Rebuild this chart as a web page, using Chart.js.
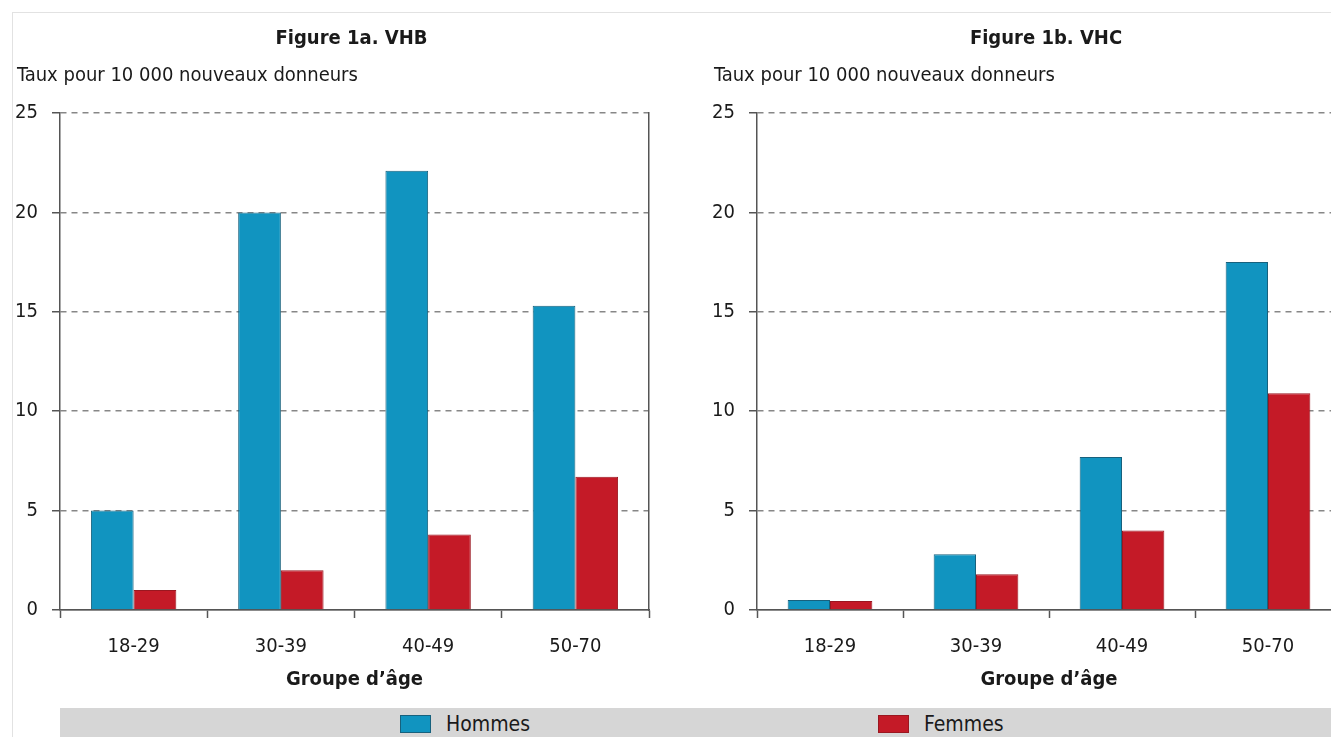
<!DOCTYPE html>
<html lang="fr">
<head>
<meta charset="utf-8">
<title>Figure 1a / 1b</title>
<script src="https://cdn.jsdelivr.net/npm/chart.js@4.4.1/dist/chart.umd.min.js"></script>
<style>
  html, body { margin: 0; padding: 0; background: #fff; overflow: hidden; }
  body { width: 1331px; height: 737px; position: relative;
         font-family: 'Liberation Sans Narrow', 'DejaVu Sans Condensed', sans-serif; }
  .frame { position: absolute; left: 12px; top: 12px; width: 1330px; height: 740px;
           border-left: 1.5px solid #e2e2e2; border-top: 1.5px solid #e2e2e2; }
  .box { position: absolute; }
  #boxA { left: 12px; top: 12px; width: 650px; height: 688px; }
  #boxB { left: 709px; top: 12px; width: 645px; height: 688px; }
  .legend { position: absolute; left: 60px; top: 708px; width: 1300px; height: 29px; background: #d6d6d6; }
  .leg-item { position: absolute; top: 1px; height: 29px; display: flex; align-items: center;
              font-size: 21px; color: #1a1a1a; }
  .swatch { width: 31px; height: 18px; margin-right: 15px; box-sizing: border-box; }
</style>
</head>
<body>
<div class="frame"></div>
<div class="box" id="boxA"><canvas id="chartA"></canvas></div>
<div class="box" id="boxB"><canvas id="chartB"></canvas></div>
<div class="legend" id="legend"></div>

<script>
// ── Data ────────────────────────────────────────────────────────────────────
const categories = ["18-29", "30-39", "40-49", "50-70"];
const vhbHommes  = [5.0, 20.0, 22.1, 15.3];
const vhbFemmes  = [1.0, 2.0, 3.8, 6.7];
const vhcHommes  = [0.5, 2.8, 7.7, 17.5];
const vhcFemmes  = [0.45, 1.8, 4.0, 10.9];
const yTicks     = [0, 5, 10, 15, 20, 25];
const seriesNames = ["Hommes", "Femmes"];

const FONT   = "'Liberation Sans Narrow', 'DejaVu Sans Condensed', sans-serif";
const BLUE   = "#1194c0";
const RED    = "#c41a27";
const AXIS   = "#555555";
const GRID   = "#878787";

Chart.defaults.font.family = FONT;
Chart.defaults.color = "#1a1a1a";

// titles drawn over the plot area
const titlesPlugin = {
  id: "titles",
  afterDraw(chart, args, opts) {
    const { ctx, chartArea } = chart;
    ctx.save();
    ctx.fillStyle = "#1a1a1a";
    ctx.textBaseline = "middle";
    ctx.font = `bold 20px ${FONT}`;
    ctx.textAlign = "center";
    ctx.fillText(opts.title, (chartArea.left + chartArea.right) / 2 - 3, chartArea.top - 74);
    ctx.font = `20px ${FONT}`;
    ctx.textAlign = "left";
    ctx.fillText(opts.subtitle, chartArea.left - 43, chartArea.top - 37);
    ctx.restore();
  },
};

function makeChart(canvasId, title, hommes, femmes) {
  return new Chart(document.getElementById(canvasId), {
    type: "bar",
    data: {
      labels: categories,
      datasets: [
        { label: seriesNames[0], data: hommes, backgroundColor: BLUE, borderColor: "#17617d", borderWidth: 1 },
        { label: seriesNames[1], data: femmes, backgroundColor: RED,  borderColor: "#9a1720", borderWidth: 1 },
      ],
    },
    options: {
      responsive: true,
      maintainAspectRatio: false,
      animation: false,
      categoryPercentage: 0.58,
      barPercentage: 1,
      layout: { padding: { left: 4, right: 13, top: 101, bottom: 0 } },
      plugins: {
        legend: { display: false },
        tooltip: { enabled: false },
        titles: { title, subtitle: "Taux pour 10 000 nouveaux donneurs" },
      },
      scales: {
        x: {
          afterFit: (s) => { s.height = 90; },
          grid: { offset: true, drawOnChartArea: false, drawTicks: true, tickLength: 8, tickColor: AXIS, tickWidth: 1.5 },
          border: { color: AXIS, width: 1.5 },
          ticks: { font: { size: 20 }, color: "#1a1a1a", padding: 17 },
          title: { display: true, text: "Groupe d’âge", font: { size: 20, weight: "bold" }, color: "#1a1a1a", padding: { top: 0, bottom: 8 } },
        },
        y: {
          min: 0,
          max: 25,
          afterFit: (s) => { s.width = 44; },
          afterBuildTicks: (s) => { s.ticks = yTicks.map((v) => ({ value: v })); },
          grid: { color: GRID, lineWidth: 1.5, tickLength: 8, tickColor: AXIS, tickWidth: 1.5 },
          border: { color: AXIS, width: 1.5, dash: (c) => (c.tick && c.tick.value === 0 ? [] : [6, 5]) },
          ticks: { font: { size: 20 }, color: "#1a1a1a", padding: 14 },
        },
        y2: {
          position: "right",
          min: 0,
          max: 25,
          afterFit: (s) => { s.width = 0; },
          grid: { drawOnChartArea: false, drawTicks: false },
          border: { color: AXIS, width: 1.5 },
          ticks: { display: false },
        },
      },
    },
    plugins: [titlesPlugin],
  });
}

const chartA = makeChart("chartA", "Figure 1a. VHB", vhbHommes, vhbFemmes);
const chartB = makeChart("chartB", "Figure 1b. VHC", vhcHommes, vhcFemmes);

// ── Legend band ────────────────────────────────────────────────────────────
const legendEl = document.getElementById("legend");
const legendX  = [340, 818];
chartA.data.datasets.forEach((ds, i) => {
  const item = document.createElement("div");
  item.className = "leg-item";
  item.style.left = legendX[i] + "px";
  item.innerHTML = `<span class="swatch" style="background:${ds.backgroundColor};border:1px solid ${ds.borderColor}"></span>${ds.label}`;
  legendEl.appendChild(item);
});
</script>
</body>
</html>
